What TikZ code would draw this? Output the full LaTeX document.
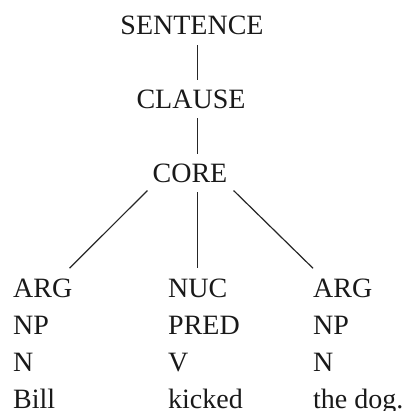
\documentclass[tikz,border=0pt]{standalone}
\usepackage{fontspec}
\setmainfont{Liberation Serif}
\usetikzlibrary{positioning}

\begin{document}
\begin{tikzpicture}[
  x=1pt, y=-1pt,
  node distance=37pt,
  cat/.style={inner sep=0pt, font=\fontsize{28}{34}\selectfont, text=black!90},
  col/.style={cat, anchor=base west},
  edge/.style={line width=1.2pt, draw=black!85}
]
\useasboundingbox (0,0) rectangle (403,411);

\node[cat, anchor=base] (sentence) at (192,35)  {SENTENCE};
\node[cat, anchor=base] (clause)   at (191,109) {CLAUSE};
\node[cat, anchor=base] (core)     at (190,183) {CORE};

\node[col] (arg1) at (13,297) {ARG};
\node[col, below=of arg1.base west, anchor=base west] (np1)   {NP};
\node[col, below=of np1.base west,  anchor=base west] (n1)    {N};
\node[col, below=of n1.base west,   anchor=base west] (bill)  {Bill};

\node[col] (nuc) at (168,297) {NUC};
\node[col, below=of nuc.base west,  anchor=base west] (pred)  {PRED};
\node[col, below=of pred.base west, anchor=base west] (v)     {V};
\node[col, below=of v.base west,    anchor=base west] (kicked) {kicked};

\node[col] (arg2) at (313,297) {ARG};
\node[col, below=of arg2.base west, anchor=base west] (np2)   {NP};
\node[col, below=of np2.base west,  anchor=base west] (n2)    {N};
\node[col, below=of n2.base west,   anchor=base west] (dog)   {the dog.};

\draw[edge, shorten <=10pt, shorten >=10pt] (sentence.south -| nuc.north) -- (clause.north -| nuc.north);
\draw[edge, shorten <=9pt, shorten >=10pt] (clause.south -| nuc.north) -- (core.north -| nuc.north);
\draw[edge, shorten <=9pt, shorten >=10pt] (core.south -| nuc.north) -- (nuc.north);
\draw[edge] ([shift={(-5,7)}]core.south west) -- ([shift={(-3,-10)}]arg1.north east);
\draw[edge] ([shift={(6,7)}]core.south east) -- ([shift={(0,-10)}]arg2.north west);

\end{tikzpicture}
\end{document}
